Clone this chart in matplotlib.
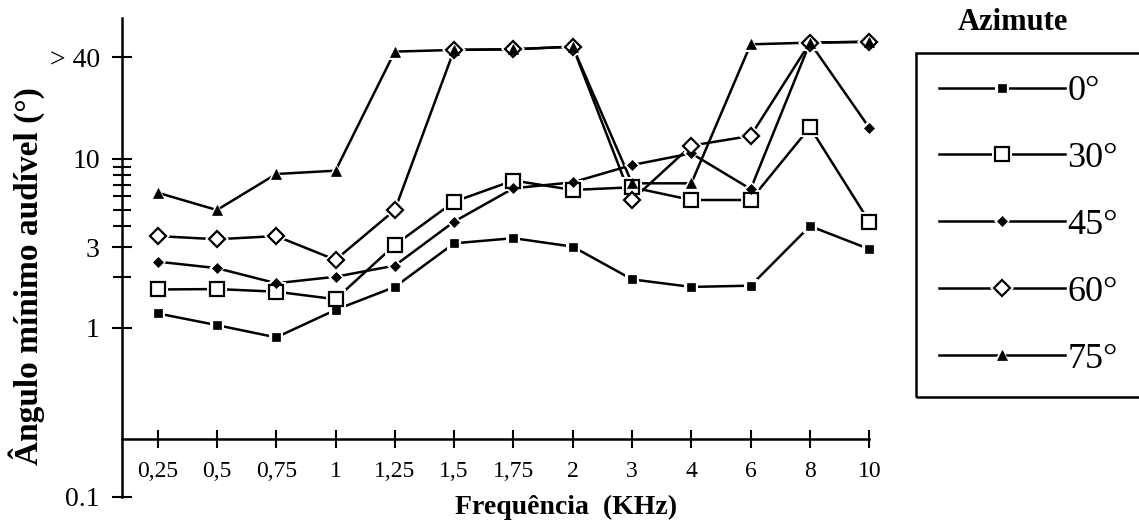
import matplotlib
matplotlib.use("Agg")
import matplotlib.pyplot as plt
from matplotlib.patches import Rectangle
from matplotlib.legend_handler import HandlerTuple
from matplotlib.ticker import FixedLocator, NullFormatter

# ---- data ----
freq_labels = ['0,25', '0,5', '0,75', '1', '1,25', '1,5', '1,75', '2', '3', '4', '6', '8', '10']
az0 = [1.22, 1.04, 0.88, 1.28, 1.75, 3.17, 3.40, 3.03, 1.94, 1.75, 1.78, 4.01, 2.93]
az30 = [1.69, 1.70, 1.64, 1.48, 3.10, 5.59, 7.46, 6.56, 6.80, 5.72, 5.72, 15.4, 4.26]
az45 = [2.47, 2.26, 1.84, 2.01, 2.34, 4.26, 6.71, 7.28, 9.21, 10.8, 6.64, 48.8, 15.3]
az60 = [3.50, 3.35, 3.50, 2.53, 4.99, 44.2, 44.6, 46.2, 5.72, 12.0, 13.7, 48.8, 49.4]
az75 = [6.32, 4.99, 8.15, 8.53, 43.2, 44.2, 44.6, 46.2, 7.18, 7.18, 47.7, 48.8, 49.4]
series_labels = ['0°', '30°', '45°', '60°', '75°']
ytick_vals = [0.1, 1, 3, 10, 40]
ytick_labels = ['0.1', '1', '3', '10', '> 40']
yminor_vals = [2, 4, 5, 6, 7, 8, 9]

SERIF = 'Liberation Serif'
W, H = 1139, 525
fig = plt.figure(figsize=(W / 100, H / 100), dpi=100)
ax = fig.add_axes([122 / W, 28 / H, 771 / W, 478.7 / H])

x = list(range(len(freq_labels)))
styles = [
    dict(marker='s', ms=6, mfc='black', mec='black', mew=0.5, halo=10),
    dict(marker='s', ms=10.5, mfc='white', mec='black', mew=1.6, halo=14),
    dict(marker='D', ms=4.8, mfc='black', mec='black', mew=0.5, halo=8.5),
    dict(marker='D', ms=8.5, mfc='white', mec='black', mew=1.6, halo=12),
    dict(marker='^', ms=7, mfc='black', mec='black', mew=0.5, halo=11),
]
handles = []
for vals, st in zip([az0, az30, az45, az60, az75], styles):
    ln, = ax.plot(x, vals, color='black', lw=1.8, zorder=2, clip_on=False)
    halo, = ax.plot(x, vals, ls='none', marker=st['marker'], ms=st['halo'],
                    mfc='white', mec='white', mew=0, zorder=3, clip_on=False)
    mk, = ax.plot(x, vals, ls='none', marker=st['marker'], ms=st['ms'],
                  mfc=st['mfc'], mec=st['mec'], mew=st['mew'], zorder=4, clip_on=False)
    handles.append((ln, halo, mk))

ax.set_yscale('log')
ax.set_ylim(0.1, 68)
ax.set_xlim(-0.6, 12.4)

for s in ['top', 'right']:
    ax.spines[s].set_visible(False)
ax.spines['left'].set_linewidth(1.8)
ax.spines['left'].set_bounds(0.1, 68)
ax.spines['bottom'].set_linewidth(1.8)
ax.spines['bottom'].set_position(('data', 0.22))
ax.spines['bottom'].set_bounds(-0.6, 12)

ax.yaxis.set_major_locator(FixedLocator(ytick_vals))
ax.set_yticklabels(ytick_labels)
ax.yaxis.set_minor_locator(FixedLocator(yminor_vals))
ax.yaxis.set_minor_formatter(NullFormatter())
ax.tick_params(axis='y', which='major', direction='inout', length=14, width=1.5,
               pad=9, labelsize=20, labelfontfamily=SERIF)
ax.tick_params(axis='y', which='minor', direction='inout', length=13, width=1.5)
ax.set_xticks(x)
ax.set_xticklabels(freq_labels)
ax.tick_params(axis='x', which='major', direction='inout', length=13, width=1.5,
               pad=9, labelsize=17, labelfontfamily=SERIF)

ax.set_xlabel('Frequência  (KHz)', fontsize=20, fontweight='bold', family=SERIF)
ax.xaxis.set_label_coords(0.576, 0.005)
ax.set_ylabel('Ângulo mínimo audível (°)', fontsize=24, fontweight='bold', family=SERIF)
ax.yaxis.set_label_coords(-0.1, 0.462)

# legend
fig.text(1013 / W, 1 - 23 / H, 'Azimute', fontsize=22, fontweight='bold',
         family=SERIF, ha='center', va='center')
fig.patches.append(Rectangle((916 / W, 1 - 397 / H), 260 / W, 344 / H,
                             transform=fig.transFigure, fill=False,
                             edgecolor='black', lw=1.8))
leg = fig.legend(handles, series_labels, handler_map={tuple: HandlerTuple(ndivide=1, pad=0)},
                 loc='upper left', bbox_to_anchor=(939 / W, 1 - 75 / H),
                 frameon=False, borderpad=0, borderaxespad=0,
                 handlelength=3.5, handletextpad=0.05, labelspacing=0.93,
                 prop={'family': SERIF, 'size': 26})

fig.savefig('out.png', dpi=100)
